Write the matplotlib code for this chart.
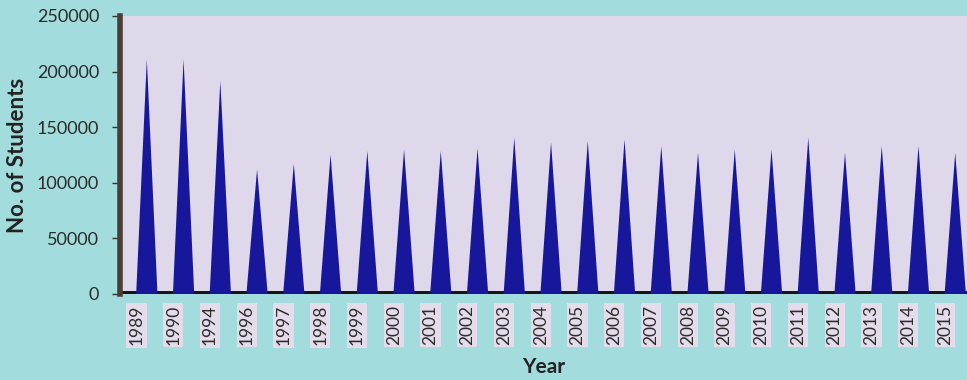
import numpy as np
import matplotlib.pyplot as plt

# data
years = ['1989', '1990', '1994', '1996', '1997', '1998', '1999', '2000',
         '2001', '2002', '2003', '2004', '2005', '2006', '2007', '2008',
         '2009', '2010', '2011', '2012', '2013', '2014', '2015']
students = [211000, 211000, 191500, 112000, 117000, 125500, 128500, 130000,
            128500, 131000, 140500, 136500, 137500, 139000, 133000, 127000,
            130000, 130000, 140500, 127000, 133000, 133000, 127000]

bg = '#a3dcdc'
plot_bg = '#dfd8eb'
cone_col = '#17179c'

plt.rcParams['font.family'] = ['Lato', 'DejaVu Sans']

fig = plt.figure(figsize=(9.67, 3.8), dpi=100)
fig.patch.set_facecolor(bg)
ax = fig.add_axes([120 / 967, (380 - 294) / 380, 1 - 120 / 967, (294 - 16) / 380])
ax.set_facecolor(plot_bg)

x = np.arange(len(years))
half = 0.29
shift = 0.28  # cones sit a bit right of their labels (3-d look)
for xi, v in zip(x, students):
    ax.fill([xi + shift - half, xi + shift, xi + shift + half], [0, v, 0],
            color=cone_col, lw=0, zorder=3)

# dark floor and side wall
ax.axhline(0, color='#141414', lw=5, zorder=2)
for s in ['top', 'right', 'bottom']:
    ax.spines[s].set_visible(False)
ax.spines['left'].set_color('#4a3d33')
ax.spines['left'].set_linewidth(4)

ax.set_xlim(-0.45, len(years) - 0.4)
ax.set_ylim(0, 250000)
ax.set_yticks(np.arange(0, 250001, 50000))
ax.tick_params(axis='y', length=6, width=1, color='#333333', pad=9,
               labelsize=13, labelcolor='#2b2b2b')
ax.set_xticks(x)
ax.set_xticklabels(years, rotation=90)
ax.tick_params(axis='x', length=0, pad=8, labelsize=12.5, labelcolor='#2b2b2b')
for lab in ax.get_xticklabels():
    lab.set_bbox(dict(facecolor='#e4dcea', edgecolor='none', pad=1.5))

ax.set_ylabel('No. of Students', fontsize=16, fontweight='bold', color='#222222', labelpad=6)
ax.set_xlabel('Year', fontsize=15, fontweight='bold', color='#222222', labelpad=8)

fig.savefig('out.png', dpi=100, facecolor=bg)
